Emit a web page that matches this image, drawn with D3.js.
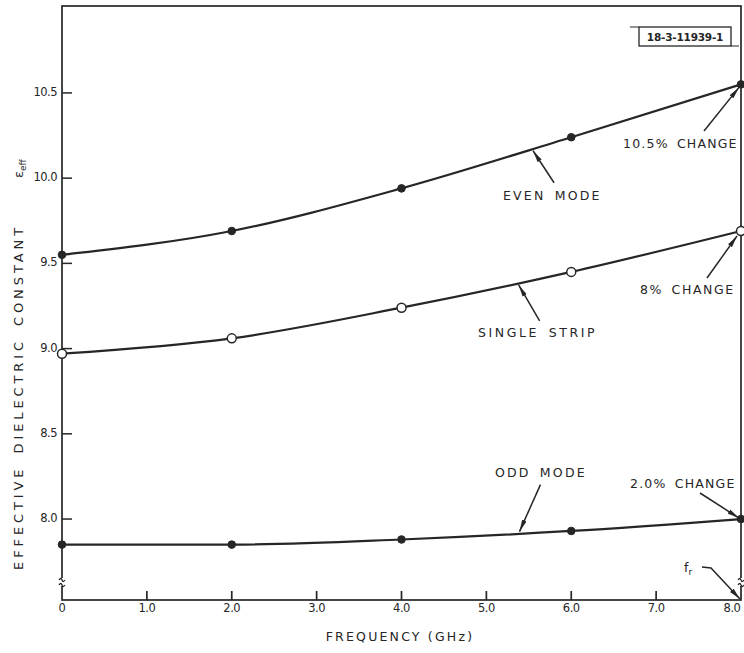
<!DOCTYPE html>
<html>
<head>
<meta charset="utf-8">
<script src="https://cdn.jsdelivr.net/npm/d3@7"></script>
<style>
  html, body { margin: 0; padding: 0; background: #fff; }
  svg { display: block; }
  text { font-family: "DejaVu Sans", sans-serif; fill: #262626; }
</style>
</head>
<body>
<svg id="chart" width="744" height="653"></svg>
<script>
// Frequency sweep (GHz) and effective dielectric constant of each line type
const freqs = [0, 2, 4, 6, 8];
const evenMode = [9.55, 9.69, 9.94, 10.24, 10.55];
const singleStrip = [8.97, 9.06, 9.24, 9.45, 9.69];
const oddMode = [7.85, 7.85, 7.88, 7.93, 8.0];

const xTickValues = [1, 2, 3, 4, 5, 6, 7];
const xTickLabels = ["0", "1.0", "2.0", "3.0", "4.0", "5.0", "6.0", "7.0", "8.0"];
const yTickValues = [8.0, 8.5, 9.0, 9.5, 10.0, 10.5];
const yTickLabels = ["8.0", "8.5", "9.0", "9.5", "10.0", "10.5"];

const ink = "#262626";
const svg = d3.select("#chart");

const x = d3.scaleLinear().domain([0, 8]).range([62, 741]);
const y = d3.scaleLinear().domain([7.525, 11.01]).range([600, 6]);

// arrowhead
svg.append("defs").append("marker")
  .attr("id", "head")
  .attr("viewBox", "0 0 12 6")
  .attr("refX", 12).attr("refY", 3)
  .attr("markerWidth", 12).attr("markerHeight", 6)
  .attr("markerUnits", "userSpaceOnUse")
  .attr("orient", "auto")
  .append("path")
  .attr("d", "M0,0.6 L12,3 L0,5.4 Z")
  .attr("fill", ink);

// frame
svg.append("rect")
  .attr("x", x(0)).attr("y", y.range()[1])
  .attr("width", x(8) - x(0)).attr("height", y.range()[0] - y.range()[1])
  .attr("fill", "none").attr("stroke", ink).attr("stroke-width", 1.7);

// x axis ticks (inward) and labels
const xAxis = svg.append("g");
xAxis.selectAll("line").data(xTickValues).join("line")
  .attr("x1", d => x(d)).attr("x2", d => x(d))
  .attr("y1", y.range()[0]).attr("y2", y.range()[0] - 9)
  .attr("stroke", ink).attr("stroke-width", 1.7);
xAxis.selectAll("text").data(xTickLabels).join("text")
  .attr("x", (d, i) => Math.min(x(i), 732))
  .attr("y", 612)
  .attr("text-anchor", "middle")
  .attr("font-size", 11.5)
  .attr("letter-spacing", -0.5)
  .text(d => d);

// y axis ticks (inward) and labels
const yAxis = svg.append("g");
yAxis.selectAll("line").data(yTickValues).join("line")
  .attr("x1", x(0)).attr("x2", x(0) + 10)
  .attr("y1", d => y(d)).attr("y2", d => y(d))
  .attr("stroke", ink).attr("stroke-width", 1.5);
yAxis.selectAll("text").data(yTickLabels).join("text")
  .attr("x", 57)
  .attr("y", (d, i) => y(yTickValues[i]) + 3)
  .attr("text-anchor", "end")
  .attr("font-size", 11.5)
  .attr("letter-spacing", -0.5)
  .text(d => d);

// axis breaks near the origin on both vertical edges
[x(0), x(8)].forEach(bx => {
  svg.append("rect").attr("x", bx - 3).attr("y", 578).attr("width", 6).attr("height", 8).attr("fill", "#fff");
  svg.append("path")
    .attr("d", `M${bx - 3},${580} q2,-3 3,0 t3,0 M${bx - 3},${585} q2,-3 3,0 t3,0`)
    .attr("fill", "none").attr("stroke", ink).attr("stroke-width", 1.3);
});

// axis titles
svg.append("text")
  .attr("x", 400).attr("y", 641)
  .attr("text-anchor", "middle")
  .attr("font-size", 12.5)
  .attr("letter-spacing", 2.2)
  .text("FREQUENCY (GHz)");

svg.append("text")
  .attr("transform", "translate(23,397) rotate(-90)")
  .attr("text-anchor", "middle")
  .attr("font-size", 13)
  .attr("letter-spacing", 3.9)
  .attr("word-spacing", 4)
  .text("EFFECTIVE DIELECTRIC CONSTANT");
svg.append("text")
  .attr("transform", "translate(23,178) rotate(-90)")
  .attr("text-anchor", "start")
  .attr("font-size", 13)
  .html('ε<tspan font-size="9" dy="3">eff</tspan>');

// curves
const series = [
  { name: "even", values: evenMode, open: false },
  { name: "single", values: singleStrip, open: true },
  { name: "odd", values: oddMode, open: false }
];
const line = d3.line()
  .x((d, i) => x(freqs[i]))
  .y(d => y(d))
  .curve(d3.curveMonotoneX);

series.forEach(s => {
  svg.append("path")
    .datum(s.values)
    .attr("d", line)
    .attr("fill", "none")
    .attr("stroke", ink)
    .attr("stroke-width", 2.2);
  svg.append("g").selectAll("circle").data(s.values).join("circle")
    .attr("cx", (d, i) => x(freqs[i]))
    .attr("cy", d => y(d))
    .attr("r", s.open ? 4.5 : 3.8)
    .attr("fill", s.open ? "#fff" : ink)
    .attr("stroke", ink)
    .attr("stroke-width", s.open ? 1.5 : 1);
});

// value on a series at frequency f (straight interpolation between points)
function valueAt(values, f) {
  return d3.scaleLinear().domain(freqs).range(values)(f);
}

function arrow(x1, y1, x2, y2) {
  svg.append("line")
    .attr("x1", x1).attr("y1", y1).attr("x2", x2).attr("y2", y2)
    .attr("stroke", ink).attr("stroke-width", 1.5)
    .attr("marker-end", "url(#head)");
}
function label(tx, ty, str, spacing) {
  svg.append("text")
    .attr("x", tx).attr("y", ty)
    .attr("font-size", 12.5)
    .attr("letter-spacing", spacing)
    .attr("word-spacing", 3)
    .text(str);
}

// curve names with leaders
const evenTip = 5.55, singleTip = 5.38, oddTip = 5.39;
arrow(x(evenTip) + 21, y(valueAt(evenMode, evenTip)) + 34, x(evenTip), y(valueAt(evenMode, evenTip)) + 2);
label(503, 200, "EVEN MODE", 2.2);
arrow(x(singleTip) + 21, y(valueAt(singleStrip, singleTip)) + 38, x(singleTip), y(valueAt(singleStrip, singleTip)) + 2);
label(478, 337, "SINGLE STRIP", 2.6);
arrow(x(oddTip) + 21, y(valueAt(oddMode, oddTip)) - 49, x(oddTip), y(valueAt(oddMode, oddTip)) - 2);
label(495, 477, "ODD MODE", 2.2);

// percentage change callouts at 8 GHz
const endX = x(freqs[freqs.length - 1]);
arrow(704, 131, endX - 2, y(evenMode[4]) + 3);
label(623, 148, "10.5% CHANGE", 1.2);
arrow(707, 278, endX - 4, y(singleStrip[4]) + 5);
label(640, 294, "8% CHANGE", 1.6);
arrow(700, 493, endX - 2, y(oddMode[4]) - 1);
label(630, 488, "2.0% CHANGE", 1.2);

// resonance marker
svg.append("text").attr("x", 684).attr("y", 572).attr("font-size", 12.5)
  .html('f<tspan font-size="9" dy="3">r</tspan>');
svg.append("path")
  .attr("d", `M702,567 L711,568 L${endX - 1},${y.range()[0] - 1}`)
  .attr("fill", "none").attr("stroke", ink).attr("stroke-width", 1.5)
  .attr("marker-end", "url(#head)");

// drawing number stamp
const stamp = svg.append("g");
stamp.append("rect").attr("x", 639).attr("y", 27).attr("width", 92).attr("height", 19)
  .attr("fill", "none").attr("stroke", ink).attr("stroke-width", 1.3);
stamp.append("line").attr("x1", 630).attr("x2", 639).attr("y1", 27).attr("y2", 27)
  .attr("stroke", ink).attr("stroke-width", 1);
stamp.append("line").attr("x1", 731).attr("x2", 739).attr("y1", 46).attr("y2", 46)
  .attr("stroke", ink).attr("stroke-width", 1);
stamp.append("text").attr("x", 685).attr("y", 41).attr("text-anchor", "middle")
  .attr("font-size", 10.5).attr("font-weight", "bold").attr("letter-spacing", -0.2)
  .text("18-3-11939-1");
</script>
</body>
</html>
